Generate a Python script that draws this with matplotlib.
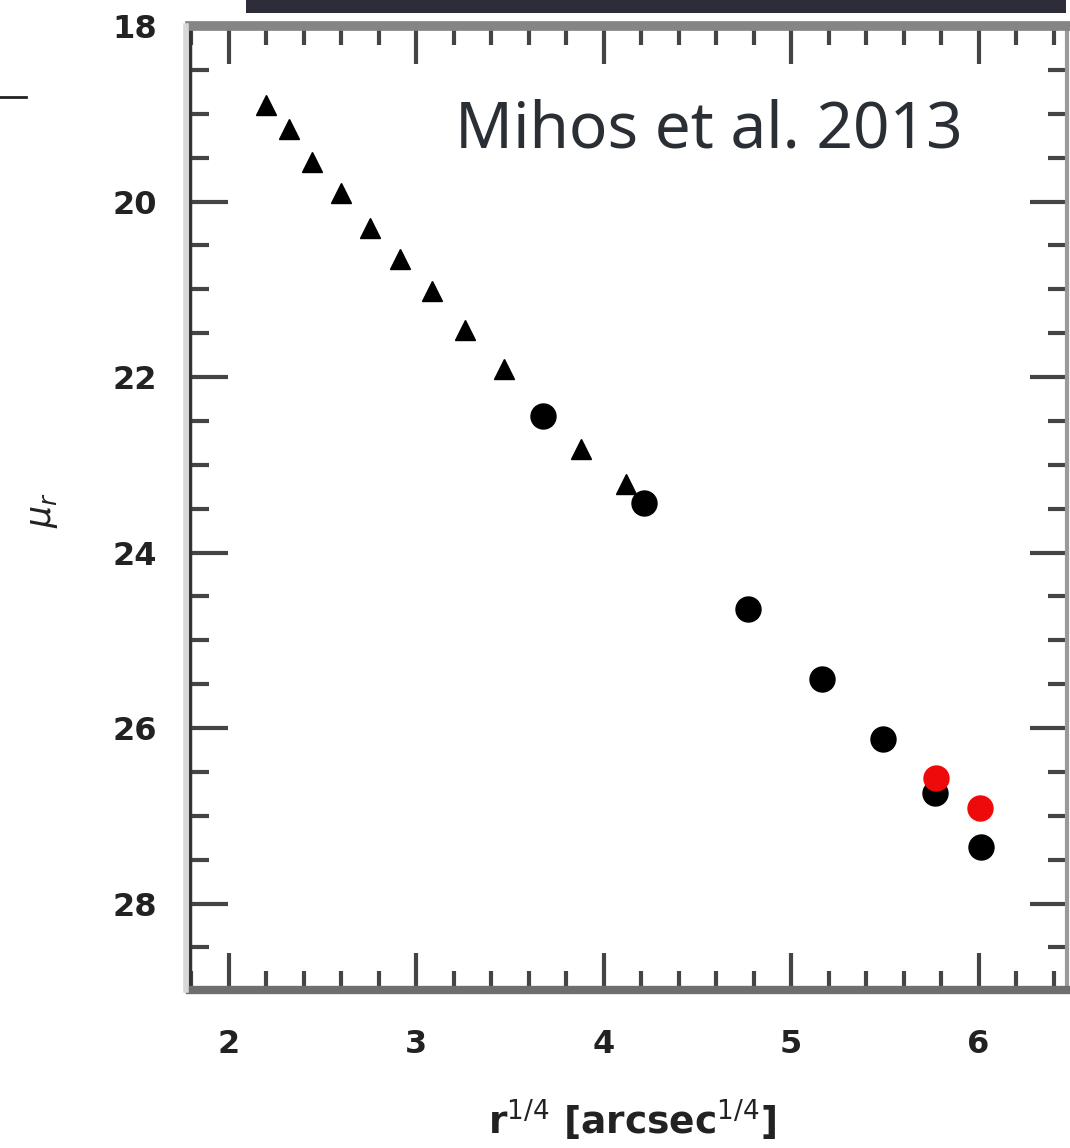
import numpy as np
import matplotlib
matplotlib.use("Agg")
import matplotlib.pyplot as plt
from matplotlib.patches import Rectangle
from matplotlib.lines import Line2D
from matplotlib.ticker import MultipleLocator

# Surface brightness profile points: r^(1/4) vs mu
tri_x = [2.20, 2.32, 2.445, 2.60, 2.75, 2.91, 3.085, 3.26, 3.47, 3.88, 4.12]
tri_mu = [18.90, 19.17, 19.55, 19.90, 20.30, 20.66, 21.02, 21.46, 21.91, 22.82, 23.22]

circ_x = [3.675, 4.217, 4.77, 5.164, 5.488, 5.77, 6.013]
circ_mu = [22.44, 23.44, 24.64, 25.44, 26.12, 26.74, 27.35]

red_x = [5.775, 6.01]
red_mu = [26.57, 26.91]

x_ticks = [2, 3, 4, 5, 6]
y_ticks = [18, 20, 22, 24, 26, 28]

W, H = 1070, 1148
fig = plt.figure(figsize=(W / 100, H / 100), dpi=100)
fig.patch.set_facecolor("white")

# axes box in pixel terms
left, right, top, bottom = 190, 1067, 26, 990
ax = fig.add_axes([left / W, 1 - bottom / H, (right - left) / W, (bottom - top) / H])

ax.plot(tri_x, tri_mu, linestyle="none", marker="^", markersize=14,
        color="black", zorder=3)
ax.plot(circ_x, circ_mu, linestyle="none", marker="o", markersize=18,
        color="black", zorder=4)
ax.plot(red_x, red_mu, linestyle="none", marker="o", markersize=18,
        color="#ee0a0a", zorder=5)

ax.set_xlim(1.792, 6.472)
ax.set_ylim(28.985, 18.0)

ax.xaxis.set_major_locator(MultipleLocator(1))
ax.xaxis.set_minor_locator(MultipleLocator(0.2))
ax.yaxis.set_major_locator(MultipleLocator(2))
ax.yaxis.set_minor_locator(MultipleLocator(0.5))
ax.set_xticks(x_ticks)
ax.set_yticks(y_ticks)

ax.tick_params(which="both", direction="in", top=True, right=True,
               color="#444444", width=3)
ax.tick_params(which="major", length=27, pad=24, labelsize=23,
               labelcolor="#222222")
ax.tick_params(axis="x", which="major", pad=28)
ax.tick_params(which="minor", length=14)
for lab in ax.get_xticklabels() + ax.get_yticklabels():
    lab.set_fontweight("bold")

ax.spines["left"].set_linewidth(2.5)
ax.spines["left"].set_color("#333333")
ax.spines["bottom"].set_linewidth(6)
ax.spines["bottom"].set_color("#6e6e6e")
ax.spines["top"].set_linewidth(7)
ax.spines["top"].set_color("#858585")
ax.spines["right"].set_linewidth(3)
ax.spines["right"].set_color("#9a9a9a")

# faint halo just outside the left spine
fig.lines.append(Line2D([186 / W, 186 / W], [1 - 990 / H, 1 - 26 / H],
                        transform=fig.transFigure, color="#d8d8d8", lw=4))

ax.text(455 / W, 1 - 147 / H, "Mihos et al. 2013", transform=fig.transFigure,
        fontsize=46, family="Noto Sans", color="#2a2e35", va="baseline",
        ha="left")

fig.text(632 / W, 1 - 1120 / H, r"r$^{1/4}$ [arcsec$^{1/4}$]", fontsize=27,
         fontweight="bold", color="#222222", ha="center", va="center")
fig.text(43 / W, 1 - 510 / H, r"$\mu_r$", fontsize=25, rotation=90,
         color="#222222", ha="center", va="center")

# slide decorations around the figure
fig.patches.append(Rectangle((246 / W, 1 - 12.5 / H), (1066 - 246) / W, 12.5 / H,
                             transform=fig.transFigure, facecolor="#2c2c3b",
                             edgecolor="none"))
fig.lines.append(Line2D([0, 26 / W], [1 - 97 / H, 1 - 97 / H],
                        transform=fig.transFigure, color="#222222", lw=2))

fig.savefig("out.png", dpi=100)
